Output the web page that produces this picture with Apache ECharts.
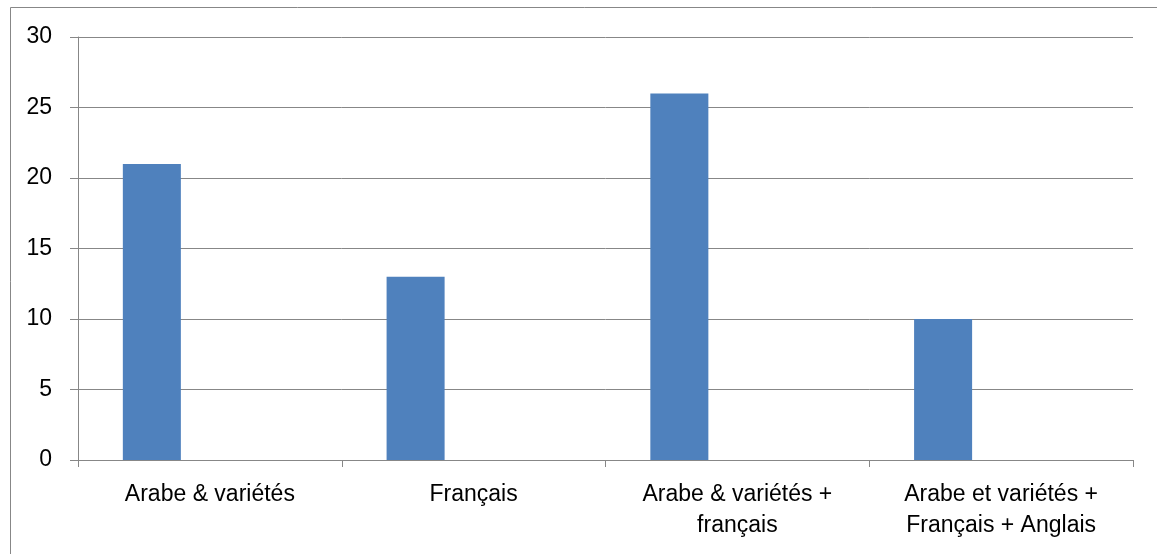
<!DOCTYPE html>
<html lang="fr">
<head>
  <meta charset="UTF-8">
  <title>Langues</title>
  <style>
    #container, html, body {
      margin: 0;
      padding: 0;
      height: 100%;
      width: 100%;
      background: #fff;
    }
  </style>
</head>
<body>
  <div id="container"></div>
</body>
<script src="https://cdn.jsdelivr.net/npm/echarts@6/dist/echarts.min.js"></script>
<script>
  var categories = ['Arabe & variétés', 'Français', 'Arabe & variétés +\nfrançais', 'Arabe et variétés +\nFrançais + Anglais']
  var values = [21, 13, 26, 10]
  // empty series, the original sheet keeps room for them
  var emptyA = [null, null, null, null]
  var emptyB = [null, null, null, null]
  var yTicks = {min: 0, max: 30, interval: 5}

  window.onload = function () {
    var chart = echarts.init(document.querySelector('#container'))
    var font = '"Liberation Sans", Arial, sans-serif'
    var gray = '#878787'
    var option = {
      animation: false,
      graphic: [{
        type: 'rect',
        shape: {x: 10.5, y: 7.5, width: 1200, height: 600},
        style: {fill: 'none', stroke: gray, lineWidth: 1}
      }],
      grid: {left: 78, right: 24, top: 37, bottom: 94},
      xAxis: {
        type: 'category',
        data: categories,
        axisLine: {lineStyle: {color: gray, width: 1}},
        axisTick: {show: true, length: 7, lineStyle: {color: gray}},
        axisLabel: {
          color: '#000',
          fontFamily: font,
          fontSize: 23,
          lineHeight: 31,
          margin: 19,
          interval: 0
        }
      },
      yAxis: {
        type: 'value',
        min: yTicks.min,
        max: yTicks.max,
        interval: yTicks.interval,
        axisLine: {show: true, lineStyle: {color: gray, width: 1}},
        axisTick: {show: true, length: 8, lineStyle: {color: gray}},
        splitLine: {lineStyle: {color: gray, width: 1}},
        axisLabel: {color: '#000', fontFamily: font, fontSize: 23, margin: 26}
      },
      series: [
        {
          type: 'bar',
          data: values,
          barGap: '0%',
          barCategoryGap: '34%',
          itemStyle: {color: '#4f81bd'}
        },
        {type: 'bar', data: emptyA, itemStyle: {color: '#c0504d'}},
        {type: 'bar', data: emptyB, itemStyle: {color: '#9bbb59'}}
      ]
    }
    chart.setOption(option)
    window.onresize = chart.resize
  }
</script>
</html>
